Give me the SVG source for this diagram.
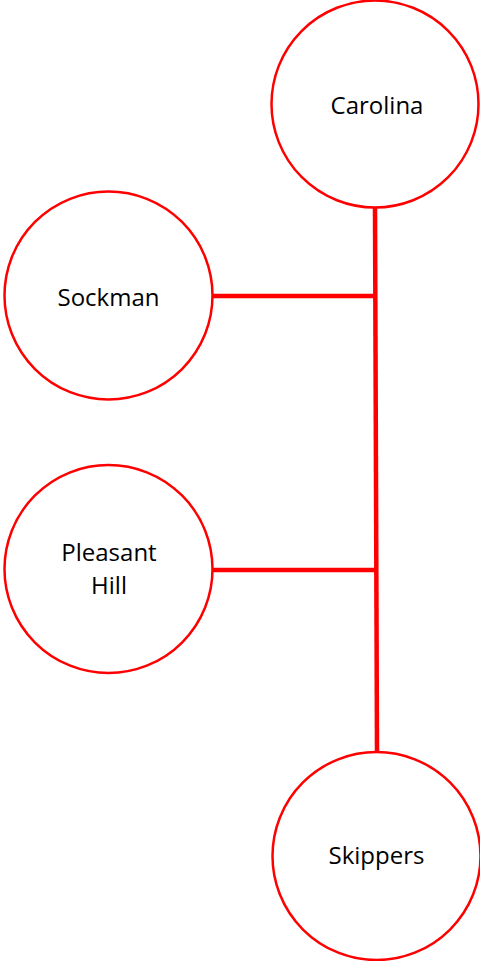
<svg xmlns="http://www.w3.org/2000/svg" width="480" height="961" viewBox="0 0 480 961">
<style>
.node{fill:#fff;stroke:#ff0000;stroke-width:2.5}
.lbl{font-family:"Open Sans","Liberation Sans",sans-serif;font-size:24px;fill:#000;text-anchor:middle}
.edge{stroke:#ff0000;stroke-width:4.5;fill:none}
</style>
<rect width="480" height="961" fill="#fff"/>
<g id="connectors">
<line class="edge" x1="375" y1="208" x2="377" y2="752"/>
<line class="edge" x1="213" y1="296" x2="376" y2="296"/>
<line class="edge" x1="213" y1="570" x2="376" y2="570"/>
</g>
<g id="carolina"><circle class="node" cx="375" cy="104" r="103.5"/><text class="lbl" x="377" y="114">Carolina</text></g>
<g id="sockman"><circle class="node" cx="108.5" cy="295.5" r="104"/><text class="lbl" x="108.5" y="306">Sockman</text></g>
<g id="pleasant-hill"><circle class="node" cx="108.5" cy="569" r="104"/><text class="lbl" x="109" y="561">Pleasant</text><text class="lbl" x="109" y="594">Hill</text></g>
<g id="skippers"><circle class="node" cx="376.5" cy="856" r="104"/><text class="lbl" x="376.5" y="864">Skippers</text></g>
</svg>
